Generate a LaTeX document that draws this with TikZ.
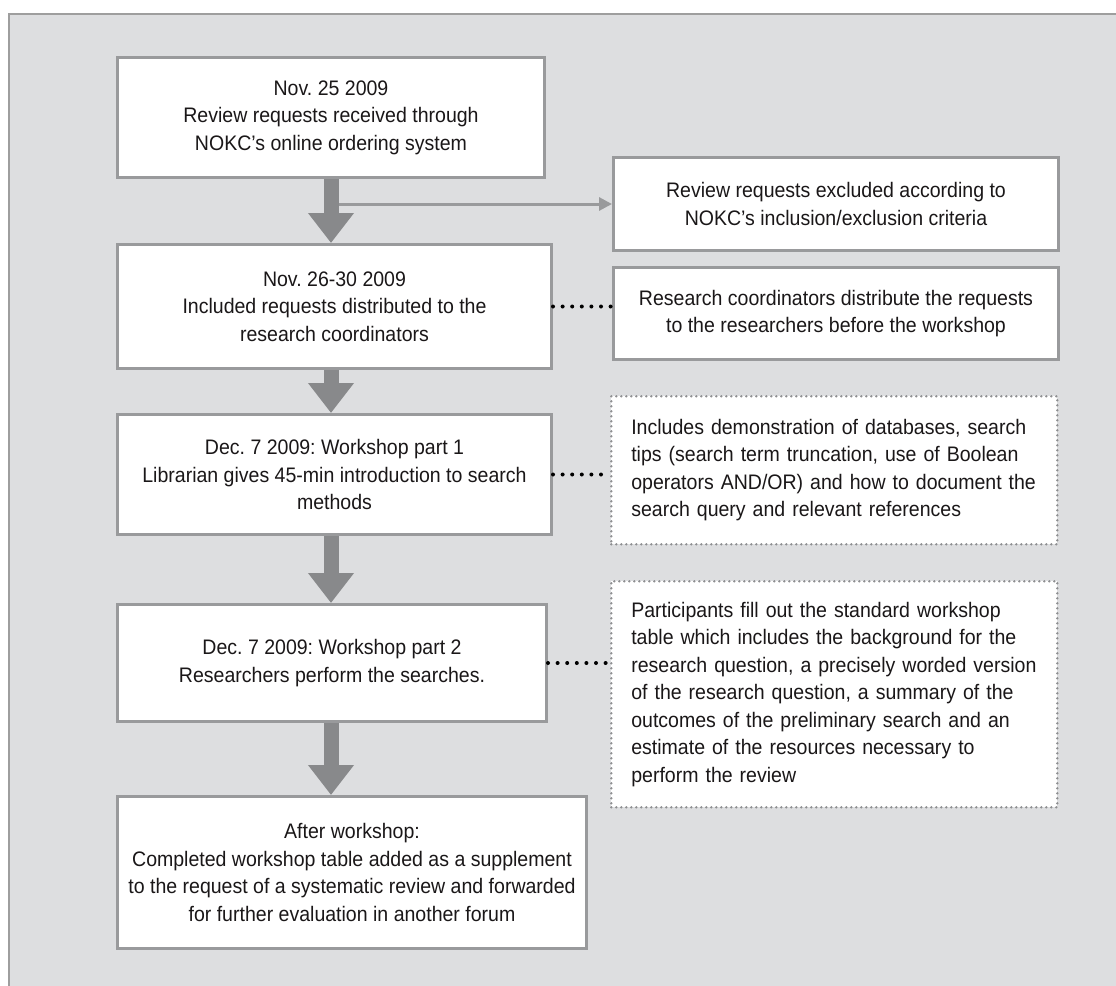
\documentclass[tikz,border=0pt]{standalone}
\usepackage{fontspec}
\setmainfont{Liberation Sans}[FakeStretch=0.93]
\usetikzlibrary{arrows.meta}
\frenchspacing
\definecolor{panelfill}{HTML}{DDDEE0}
\definecolor{panelline}{HTML}{9E9E9E}
\definecolor{boxline}{HTML}{999A9C}
\definecolor{dotline}{HTML}{8E8F91}
\definecolor{arrowgray}{HTML}{88898B}
\definecolor{textcol}{HTML}{1A1718}
\tikzset{
  box/.style={draw=boxline, line width=3pt, fill=white, anchor=north west,
    align=center, text=textcol, inner sep=0pt,
    font=\fontsize{21}{27.5}\selectfont\frenchspacing},
  dotbox/.style={draw=dotline, line width=2.6pt, fill=white, anchor=north west,
    align=left, text=textcol, inner xsep=20pt, inner ysep=0pt,
    dash pattern=on 0pt off 5pt, line cap=round,
    font=\fontsize{21}{27.5}\selectfont\frenchspacing},
  bigarrow/.style={line width=15pt, arrowgray, -{Triangle[length=30pt,width=44pt]}},
  thinarrow/.style={line width=3pt, boxline, -{Triangle[length=13pt,width=13pt]}},
  dotlink/.style={line width=4pt, black, dash pattern=on 0pt off 9.6pt, line cap=round}
}
\begin{document}
\begin{tikzpicture}[x=1pt,y=-1pt]
\useasboundingbox (0,0) rectangle (1116,985);
\clip (0,0) rectangle (1116,985);
\draw[panelline, line width=2pt, fill=panelfill] (9,14) rectangle (1140,1010);

\node[box, minimum width=427pt, minimum height=120pt] (b1) at (116,56)
  {Nov. 25 2009\\Review requests received through\\NOKC’s online ordering system};
\node[box, minimum width=434pt, minimum height=124pt] (b2) at (116,243)
  {Nov. 26-30 2009\\Included requests distributed to the\\research coordinators};
\node[box, minimum width=434pt, minimum height=120pt] (b3) at (116,413)
  {Dec. 7 2009: Workshop part 1\\Librarian gives 45-min introduction to search\\methods};
\node[box, minimum width=429pt, minimum height=117pt] (b4) at (116,603)
  {Dec. 7 2009: Workshop part 2\\Researchers perform the searches.};
\node[box, minimum width=469pt, minimum height=152pt] (b5) at (116,795)
  {After workshop:\\Completed workshop table added as a supplement\\to the request of a systematic review and forwarded\\for further evaluation in another forum};

\node[box, minimum width=445pt, minimum height=93pt] (excl) at (612,156)
  {Review requests excluded according to\\NOKC’s inclusion/exclusion criteria};
\node[box, minimum width=445pt, minimum height=92pt] (rc) at (612,266)
  {Research coordinators distribute the requests\\to the researchers before the workshop};
\node[dotbox, text width=406pt, minimum height=148pt] (d1) at (610,395)
  {Includes demonstration of databases, search\\tips (search term truncation, use of Boolean\\operators AND/OR) and how to document the\\search query and relevant references};
\node[dotbox, text width=406pt, minimum height=226pt] (d2) at (610,580)
  {Participants fill out the standard workshop\\table which includes the background for the\\research question, a precisely worded version\\of the research question, a summary of the\\outcomes of the preliminary search and an\\estimate of the resources necessary to\\perform the review};

\coordinate (split) at (b1.south |- excl.west);
\draw[thinarrow] (split) -- (excl.west);
\draw[bigarrow] (b1.south) -- (b1.south |- b2.north);
\draw[bigarrow] (b1.south |- b2.south) -- (b1.south |- b3.north);
\draw[bigarrow] (b1.south |- b3.south) -- (b1.south |- b4.north);
\draw[bigarrow] (b1.south |- b4.south) -- (b1.south |- b5.north);

\draw[dotlink] (b2.east) -- (b2.east -| rc.west);
\draw[dotlink] (b3.east) -- (b3.east -| d1.west);
\draw[dotlink] (b4.east) -- (b4.east -| d2.west);
\end{tikzpicture}
\end{document}
